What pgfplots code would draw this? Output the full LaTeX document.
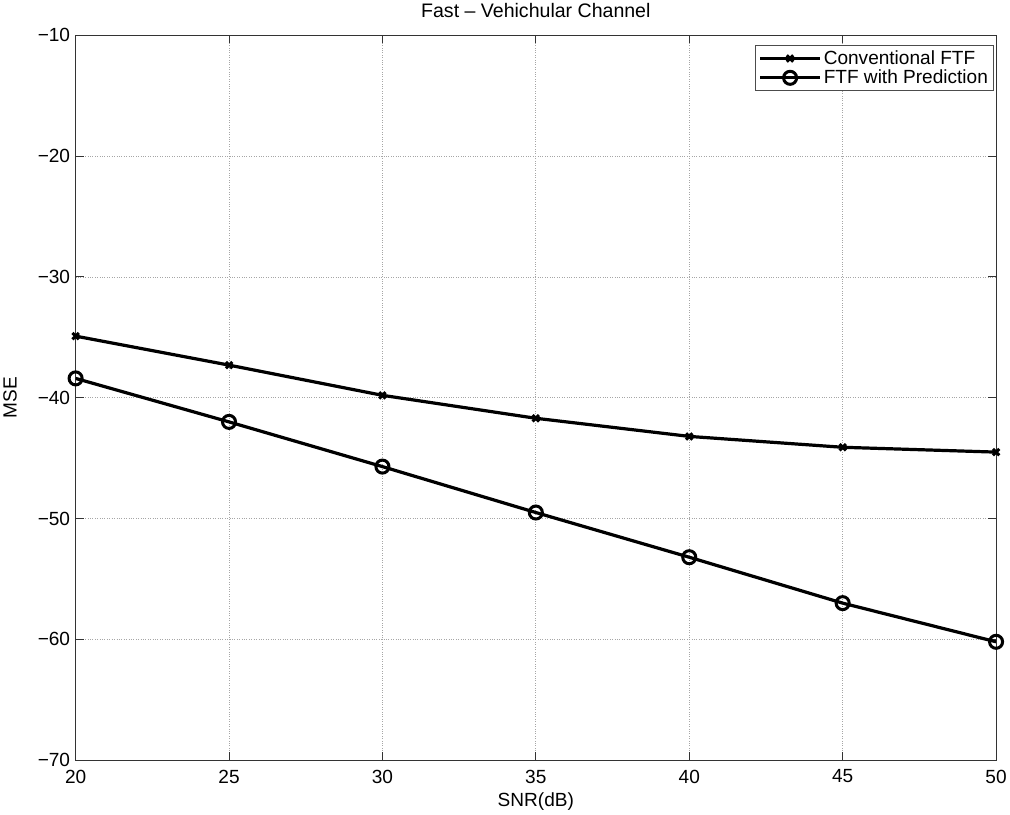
\documentclass[border=0pt]{standalone}
\usepackage{pgfplots}
\pgfplotsset{compat=1.18}
\usepackage{fontspec}
\setmainfont{Liberation Sans}
\begin{document}
\begin{tikzpicture}
\begin{axis}[
  scale only axis,
  width=918pt, height=723pt,
  xmin=20, xmax=50, ymin=-70, ymax=-10,
  xtick={20,25,...,50}, ytick={-70,-60,...,-10},
  yticklabels={−70,−60,−50,−40,−30,−20,−10},
  grid=major,
  major grid style={dotted, gray!70, line width=0.8pt},
  tick align=inside,
  major tick length=8pt,
  axis line style={line width=0.9pt, black!80},
  tick style={line width=0.9pt, black!80},
  /pgf/number format/assume math mode=true,
  ticklabel style={font=\fontsize{19}{21}\selectfont},
  xticklabel style={yshift=-6pt},
  yticklabel style={xshift=-2pt},
  title={Fast – Vehichular Channel},
  title style={font=\fontsize{19.5}{21}\selectfont, yshift=8pt},
  xlabel={SNR(dB)}, ylabel={MSE},
  label style={font=\fontsize{19}{21}\selectfont},
  xlabel style={yshift=-3pt},
  ylabel style={yshift=14pt},
  legend style={font=\fontsize{19}{23}\selectfont, draw=black!70, line width=0.8pt, inner sep=3pt, at={(0.997,0.986)}, anchor=north east},
  legend cell align=left,
  legend image code/.code={\draw[mark repeat=2,mark phase=2] plot coordinates {(0pt,0pt) (30pt,0pt) (60pt,0pt)};},
]
\addplot[black, line width=3.2pt, mark=x, mark size=4.5pt, mark options={line width=3pt}] coordinates {
(20,-34.9) (25,-37.3) (30,-39.8) (35,-41.7) (40,-43.2) (45,-44.1) (50,-44.5)};
\addlegendentry{Conventional FTF}
\addplot[black, line width=3.2pt, mark=o, mark size=6.5pt, mark options={line width=3pt}] coordinates {
(20,-38.4) (25,-42.0) (30,-45.7) (35,-49.5) (40,-53.2) (45,-57.0) (50,-60.2)};
\addlegendentry{FTF with Prediction}
\end{axis}
\end{tikzpicture}
\end{document}
